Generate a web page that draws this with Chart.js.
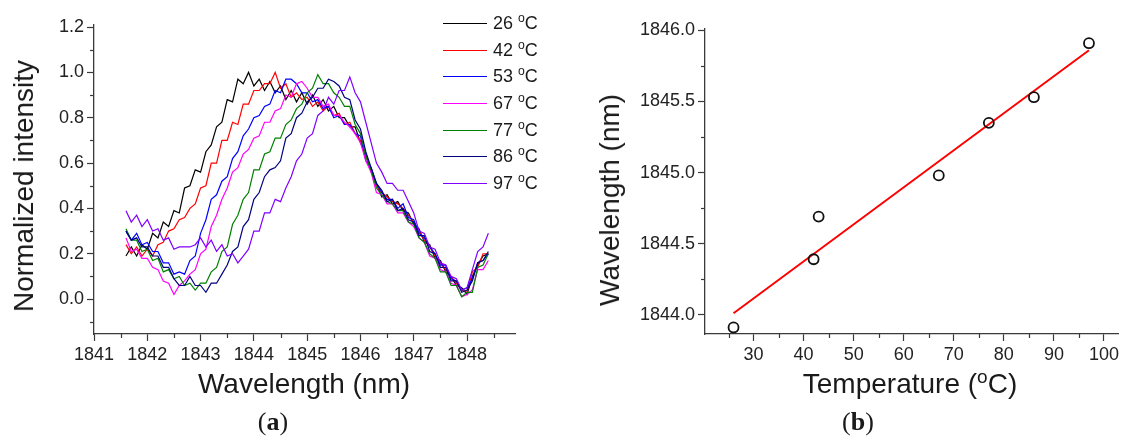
<!DOCTYPE html>
<html>
<head>
<meta charset="utf-8">
<script src="https://cdn.jsdelivr.net/npm/chart.js@4.4.1/dist/chart.umd.min.js"></script>
<style>
  body { margin: 0; background: #fff; font-family: "Liberation Sans", Arial, sans-serif; color: #1a1a1a; }
  #page { position: relative; width: 1126px; height: 437px; overflow: hidden; }
  canvas { position: absolute; top: 0; }
  .title { position: absolute; font-size: 28px; line-height: 1; white-space: nowrap; transform: translate(-50%, -50%); }
  .rot { transform: translate(-50%, -50%) rotate(-90deg); }
  .tag { position: absolute; font-family: "Liberation Serif", "Times New Roman", serif; font-size: 26px; line-height: 1; transform: translateX(-50%); }
  .tag b { font-weight: bold; }
  sup { font-size: 0.68em; vertical-align: 0.55em; line-height: 0; }
  .leg { position: absolute; left: 443px; font-size: 18px; line-height: 1; }
  .leg span.ln { position: absolute; left: 0; top: 0; width: 44px; height: 0; border-top: 1.5px solid; }
  .leg span.tx { position: absolute; left: 50px; top: -9px; white-space: nowrap; }
</style>
</head>
<body>
<div id="page">
  <canvas id="chartA" width="560" height="400" style="left:0"></canvas>
  <canvas id="chartB" width="566" height="400" style="left:560px"></canvas>

  <div class="title rot" style="left:24px; top:186px">Normalized intensity</div>
  <div class="title" style="left:304px; top:384px">Wavelength (nm)</div>
  <div class="title rot" style="left:610px; top:200px">Wavelength (nm)</div>
  <div class="title" style="left:910px; top:384px">Temperature (<sup>o</sup>C)</div>
  <div class="tag" style="left:273px; top:409px">(<b>a</b>)</div>
  <div class="tag" style="left:858px; top:409px">(<b>b</b>)</div>
  <div id="legend"></div>
</div>

<script>
// panel (a): spectra, one value every 0.1 nm
const wavelengths = [
  1841.6, 1841.7, 1841.8, 1841.9, 1842.0, 1842.1, 1842.2, 1842.3, 1842.4, 1842.5,
  1842.6, 1842.7, 1842.8, 1842.9, 1843.0, 1843.1, 1843.2, 1843.3, 1843.4, 1843.5,
  1843.6, 1843.7, 1843.8, 1843.9, 1844.0, 1844.1, 1844.2, 1844.3, 1844.4, 1844.5,
  1844.6, 1844.7, 1844.8, 1844.9, 1845.0, 1845.1, 1845.2, 1845.3, 1845.4, 1845.5,
  1845.6, 1845.7, 1845.8, 1845.9, 1846.0, 1846.1, 1846.2, 1846.3, 1846.4, 1846.5,
  1846.6, 1846.7, 1846.8, 1846.9, 1847.0, 1847.1, 1847.2, 1847.3, 1847.4, 1847.5,
  1847.6, 1847.7, 1847.8, 1847.9, 1848.0, 1848.1, 1848.2, 1848.3, 1848.4
];

const labels = ['26', '42', '53', '67', '77', '86', '97'];
const colors = ['#000000', '#ff0000', '#0000ff', '#ff00ff', '#008000', '#000080', '#8000ff'];

const t26 = [
  0.19, 0.23, 0.19, 0.24, 0.22, 0.29, 0.27, 0.34, 0.32, 0.39,
  0.38, 0.49, 0.50, 0.57, 0.56, 0.65, 0.68, 0.76, 0.78, 0.88,
  0.87, 0.97, 0.95, 1.00, 0.94, 0.97, 0.92, 0.96, 0.91, 0.94,
  0.88, 0.92, 0.87, 0.91, 0.86, 0.90, 0.85, 0.88, 0.83, 0.85,
  0.80, 0.80, 0.76, 0.76, 0.69, 0.64, 0.56, 0.51, 0.45, 0.46,
  0.42, 0.43, 0.39, 0.38, 0.33, 0.31, 0.25, 0.24, 0.18, 0.17,
  0.12, 0.10, 0.06, 0.05, 0.02, 0.10, 0.15, 0.19, 0.20
];
const t42 = [
  0.24, 0.20, 0.23, 0.19, 0.22, 0.19, 0.24, 0.25, 0.30, 0.31,
  0.35, 0.36, 0.40, 0.42, 0.49, 0.50, 0.60, 0.60, 0.70, 0.70,
  0.78, 0.77, 0.86, 0.86, 0.92, 0.92, 0.95, 0.95, 1.00, 0.93,
  0.95, 0.89, 0.91, 0.88, 0.89, 0.85, 0.87, 0.83, 0.85, 0.81,
  0.82, 0.77, 0.78, 0.73, 0.70, 0.63, 0.57, 0.50, 0.47, 0.45,
  0.43, 0.42, 0.40, 0.37, 0.34, 0.30, 0.26, 0.23, 0.19, 0.16,
  0.13, 0.10, 0.07, 0.04, 0.03, 0.12, 0.14, 0.20, 0.20
];
const t53 = [
  0.30, 0.26, 0.29, 0.24, 0.25, 0.21, 0.21, 0.16, 0.16, 0.11,
  0.12, 0.11, 0.17, 0.19, 0.29, 0.35, 0.44, 0.46, 0.52, 0.54,
  0.62, 0.65, 0.72, 0.75, 0.80, 0.81, 0.85, 0.86, 0.92, 0.91,
  0.97, 0.97, 0.95, 0.91, 0.91, 0.87, 0.88, 0.84, 0.85, 0.80,
  0.81, 0.77, 0.77, 0.73, 0.72, 0.61, 0.58, 0.51, 0.47, 0.44,
  0.44, 0.40, 0.42, 0.36, 0.35, 0.29, 0.27, 0.23, 0.20, 0.15,
  0.15, 0.09, 0.08, 0.04, 0.05, 0.09, 0.16, 0.17, 0.20
];
const t67 = [
  0.27, 0.21, 0.22, 0.18, 0.18, 0.14, 0.13, 0.08, 0.07, 0.02,
  0.06, 0.08, 0.11, 0.13, 0.20, 0.22, 0.32, 0.37, 0.44, 0.49,
  0.56, 0.58, 0.64, 0.66, 0.71, 0.72, 0.78, 0.78, 0.83, 0.84,
  0.90, 0.89, 0.95, 0.96, 0.93, 0.89, 0.89, 0.85, 0.86, 0.81,
  0.81, 0.78, 0.76, 0.73, 0.69, 0.61, 0.56, 0.47, 0.46, 0.42,
  0.42, 0.38, 0.38, 0.34, 0.32, 0.27, 0.25, 0.19, 0.18, 0.13,
  0.12, 0.07, 0.06, 0.01, 0.02, 0.04, 0.13, 0.13, 0.17
];
const t77 = [
  0.31, 0.26, 0.26, 0.21, 0.22, 0.17, 0.18, 0.12, 0.13, 0.09,
  0.10, 0.06, 0.07, 0.04, 0.07, 0.07, 0.12, 0.14, 0.21, 0.23,
  0.33, 0.37, 0.44, 0.47, 0.57, 0.57, 0.64, 0.65, 0.71, 0.71,
  0.77, 0.79, 0.84, 0.86, 0.91, 0.93, 0.99, 0.95, 0.95, 0.91,
  0.89, 0.85, 0.85, 0.77, 0.73, 0.63, 0.57, 0.49, 0.46, 0.43,
  0.42, 0.39, 0.39, 0.34, 0.33, 0.27, 0.25, 0.20, 0.18, 0.12,
  0.12, 0.06, 0.06, 0.01, 0.03, 0.03, 0.14, 0.15, 0.20
];
const t86 = [
  0.30, 0.26, 0.27, 0.23, 0.23, 0.19, 0.19, 0.14, 0.14, 0.09,
  0.06, 0.06, 0.10, 0.06, 0.06, 0.03, 0.07, 0.07, 0.11, 0.15,
  0.21, 0.23, 0.32, 0.35, 0.44, 0.47, 0.54, 0.57, 0.58, 0.61,
  0.71, 0.73, 0.80, 0.82, 0.87, 0.89, 0.93, 0.93, 0.97, 0.96,
  0.94, 0.89, 0.88, 0.79, 0.75, 0.65, 0.58, 0.51, 0.48, 0.43,
  0.44, 0.39, 0.40, 0.35, 0.34, 0.28, 0.28, 0.21, 0.20, 0.14,
  0.14, 0.08, 0.08, 0.03, 0.04, 0.08, 0.16, 0.17, 0.21
];
const t97 = [
  0.39, 0.34, 0.37, 0.32, 0.35, 0.30, 0.31, 0.26, 0.27, 0.22,
  0.23, 0.23, 0.23, 0.24, 0.27, 0.23, 0.26, 0.21, 0.24, 0.19,
  0.20, 0.16, 0.19, 0.22, 0.30, 0.30, 0.38, 0.38, 0.44, 0.43,
  0.49, 0.54, 0.61, 0.64, 0.71, 0.73, 0.81, 0.83, 0.89, 0.86,
  0.92, 0.92, 0.98, 0.91, 0.87, 0.78, 0.69, 0.60, 0.56, 0.51,
  0.51, 0.48, 0.48, 0.43, 0.38, 0.30, 0.29, 0.23, 0.22, 0.16,
  0.15, 0.10, 0.09, 0.04, 0.05, 0.13, 0.21, 0.23, 0.29
];
const spectra = [t26, t42, t53, t67, t77, t86, t97];

// panel (b): peak wavelength vs temperature
const temps = [26, 42, 43, 67, 77, 86, 97];
const peaks = [1843.91, 1844.39, 1844.69, 1844.98, 1845.35, 1845.53, 1845.91];
const fitX = [26, 97];
const fitY = [1844.01, 1845.86];

// minor tick positions
const minorA_x = [1841.5, 1842.5, 1843.5, 1844.5, 1845.5, 1846.5, 1847.5, 1848.5];
const minorA_y = [-0.1, 0.1, 0.3, 0.5, 0.7, 0.9, 1.1];
const minorB_x = [25, 35, 45, 55, 65, 75, 85, 95];
const minorB_y = [1844.25, 1844.75, 1845.25, 1845.75];

const AXIS = '#3a3a3a';
const TICKTXT = '#222';
const tickFont = { family: '"Liberation Sans", Arial, sans-serif', size: 18 };

const minorTicks = {
    id: 'minorTicks',
    afterDraw(chart, args, opts) {
        const ctx = chart.ctx;
        const xs = chart.scales.x, ys = chart.scales.y;
        ctx.save();
        ctx.strokeStyle = AXIS;
        ctx.lineWidth = 1.2;
        opts.x.forEach(v => {
            const p = Math.round(xs.getPixelForValue(v)) + 0.5;
            ctx.beginPath(); ctx.moveTo(p, xs.top); ctx.lineTo(p, xs.top + 4); ctx.stroke();
        });
        opts.y.forEach(v => {
            const p = Math.round(ys.getPixelForValue(v)) + 0.5;
            ctx.beginPath(); ctx.moveTo(ys.right, p); ctx.lineTo(ys.right - 4, p); ctx.stroke();
        });
        ctx.restore();
    }
};

function axis(min, max, step, digits, fit) {
    return {
        type: 'linear',
        min: min,
        max: max,
        afterFit: fit,
        border: { display: true, color: AXIS, width: 1.3 },
        grid: { drawOnChartArea: false, drawTicks: true, tickLength: 7, tickColor: AXIS, tickWidth: 1.2 },
        ticks: {
            stepSize: step,
            includeBounds: false,
            color: TICKTXT,
            font: tickFont,
            padding: 3,
            maxRotation: 0,
            autoSkip: false,
            callback: v => v.toFixed(digits)
        }
    };
}

// chart (a)
new Chart(document.getElementById('chartA'), {
    type: 'line',
    data: {
        datasets: spectra.map((vals, i) => ({
            label: labels[i] + ' °C',
            data: wavelengths.map((w, k) => ({ x: w, y: vals[k] })),
            borderColor: colors[i],
            borderWidth: 1.2,
            pointRadius: 0,
            tension: 0,
            order: spectra.length - i
        }))
    },
    options: {
        responsive: false,
        animation: false,
        layout: { padding: { left: 0, top: 25, right: 45, bottom: 0 } },
        plugins: {
            legend: { display: false },
            tooltip: { enabled: false },
            minorTicks: { x: minorA_x, y: minorA_y }
        },
        scales: {
            x: axis(1841, 1848.9, 1, 0, s => { s.height = 66; }),
            y: axis(-0.154, 1.209, 0.2, 1, s => { s.width = 94; })
        }
    },
    plugins: [minorTicks]
});

// chart (b)
new Chart(document.getElementById('chartB'), {
    type: 'scatter',
    data: {
        datasets: [
            {
                label: 'Fit',
                type: 'line',
                data: fitX.map((t, i) => ({ x: t, y: fitY[i] })),
                borderColor: '#ff0000',
                borderWidth: 2,
                pointRadius: 0,
                order: 2
            },
            {
                label: 'Peak',
                data: temps.map((t, i) => ({ x: t, y: peaks[i] })),
                pointStyle: 'circle',
                pointRadius: 5,
                borderWidth: 1.8,
                borderColor: '#111',
                backgroundColor: 'rgba(0,0,0,0)',
                order: 1
            }
        ]
    },
    options: {
        responsive: false,
        animation: false,
        layout: { padding: { left: 0, top: 29, right: 8, bottom: 0 } },
        plugins: {
            legend: { display: false },
            tooltip: { enabled: false },
            minorTicks: { x: minorB_x, y: minorB_y }
        },
        scales: {
            x: axis(20.3, 102.8, 10, 0, s => { s.height = 66; }),
            y: axis(1843.864, 1846.01, 0.5, 1, s => { s.width = 145; })
        }
    },
    plugins: [minorTicks]
});

// legend of panel (a)
const legRows = [23, 49.7, 76.3, 103, 129.7, 156.3, 183];
const legend = document.getElementById('legend');
labels.forEach((l, i) => {
    const row = document.createElement('div');
    row.className = 'leg';
    row.style.top = legRows[i] + 'px';
    row.innerHTML = '<span class="ln" style="border-color:' + colors[i] + '"></span>' +
        '<span class="tx">' + l + ' <sup>o</sup>C</span>';
    legend.appendChild(row);
});
</script>
</body>
</html>
